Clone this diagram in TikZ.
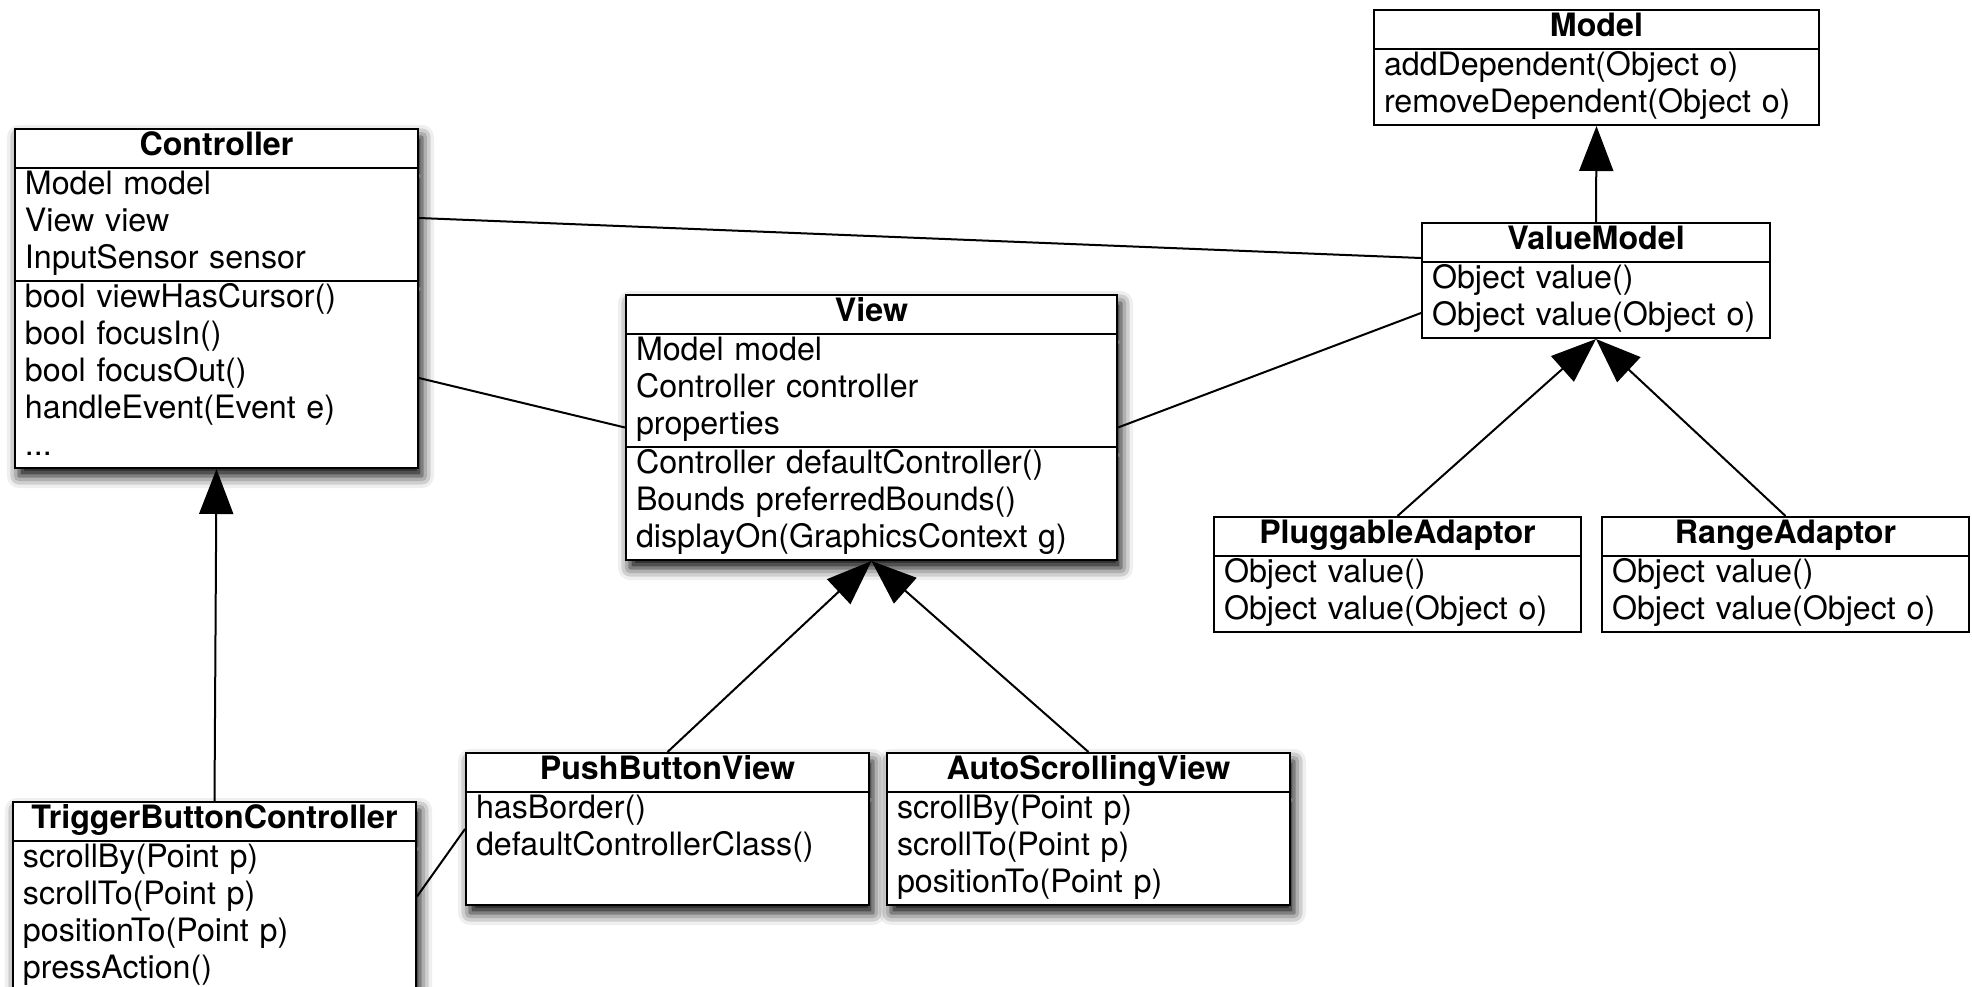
\documentclass[tikz,border=0pt]{standalone}
\usepackage{fontspec}
\setmainfont{TeX Gyre Heros}
\usetikzlibrary{shapes.multipart,arrows.meta,calc,shadows.blur}

\begin{document}
\begin{tikzpicture}[x=0.5pt,y=-0.5pt,
        cls/.style={draw,fill=white,line width=1pt,rectangle split,rectangle split parts=#1,
            anchor=north west,inner xsep=5pt,inner ysep=0pt,align=left,
            font=\fontsize{16.1}{18.5}\selectfont},
        dropshadow/.style={blur shadow={shadow xshift=2pt,shadow yshift=-4pt,
            shadow blur radius=6pt,shadow opacity=100}},
        isa/.style={line width=1pt,-{Triangle[length=22.5pt,width=17pt]}},
        link/.style={line width=1pt}]
    \useasboundingbox (0,0) rectangle (1972,986);

    \node[cls=2,text width=212.5pt] (model) at (1373,9)
        {\strut\makebox[\linewidth]{\bfseries Model}
        \nodepart{two}\strut addDependent(Object o)\\removeDependent(Object o)\strut};
    \node[cls=2,text width=164pt] (vm) at (1421,222)
        {\strut\makebox[\linewidth]{\bfseries ValueModel}
        \nodepart{two}\strut Object value()\\Object value(Object o)\strut};
    \node[cls=2,text width=173.5pt] (pa) at (1213,516)
        {\strut\makebox[\linewidth]{\bfseries PluggableAdaptor}
        \nodepart{two}\strut Object value()\\Object value(Object o)\strut};
    \node[cls=2,text width=173.5pt] (ra) at (1601,516)
        {\strut\makebox[\linewidth]{\bfseries RangeAdaptor}
        \nodepart{two}\strut Object value()\\Object value(Object o)\strut};

    \node[cls=3,dropshadow,text width=191.5pt] (ctrl) at (14,128)
        {\strut\makebox[\linewidth]{\bfseries Controller}
        \nodepart{two}\strut Model model\\View view\\InputSensor sensor\strut
        \nodepart{three}\strut bool viewHasCursor()\\bool focusIn()\\bool focusOut()\\handleEvent(Event e)\\...\strut};
    \node[cls=3,dropshadow,text width=235.5pt] (view) at (625,294)
        {\strut\makebox[\linewidth]{\bfseries View}
        \nodepart{two}\strut Model model\\Controller controller\\properties\strut
        \nodepart{three}\strut Controller defaultController()\\Bounds preferredBounds()\\displayOn(GraphicsContext g)\strut};
    \node[cls=2,dropshadow,text width=191.5pt] (pbv) at (465,752)
        {\strut\makebox[\linewidth]{\bfseries PushButtonView}
        \nodepart{two}\strut hasBorder()\\defaultControllerClass()\\\strut};
    \node[cls=2,dropshadow,text width=191.5pt] (asv) at (886,752)
        {\strut\makebox[\linewidth]{\bfseries AutoScrollingView}
        \nodepart{two}\strut scrollBy(Point p)\\scrollTo(Point p)\\positionTo(Point p)\strut};
    \node[cls=2,dropshadow,text width=191.5pt] (tbc) at (12,801)
        {\strut\makebox[\linewidth]{\bfseries TriggerButtonController}
        \nodepart{two}\strut scrollBy(Point p)\\scrollTo(Point p)\\positionTo(Point p)\\pressAction()\strut};

    \draw[link] ($(ctrl.east)+(0,-80.5)$) -- ($(vm.west)+(0,-22.5)$);
    \draw[link] ($(ctrl.east)+(0,79.5)$) -- (view.west);
    \draw[link] (view.east) -- ($(vm.west)+(0,32.5)$);
    \draw[link] (tbc.east) -- (pbv.west);

    \draw[isa] (vm.north) -- (model.south);
    \draw[isa] (pa.north) -- (vm.south);
    \draw[isa] (ra.north) -- (vm.south);
    \draw[isa] (pbv.north) -- (view.south);
    \draw[isa] (asv.north) -- (view.south);
    \draw[isa] (tbc.north) -- (ctrl.south);
\end{tikzpicture}
\end{document}
